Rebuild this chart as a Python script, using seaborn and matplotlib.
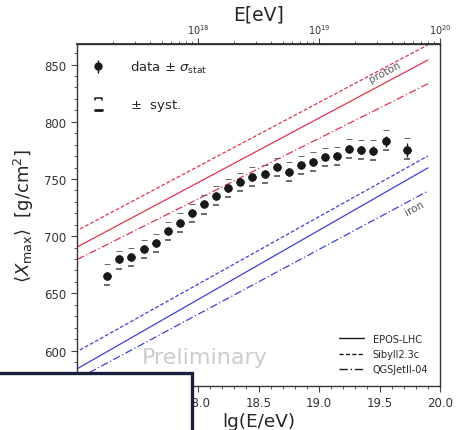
import numpy as np
import pandas as pd
import matplotlib
matplotlib.use("Agg")
import matplotlib.pyplot as plt
import seaborn as sns
from matplotlib.lines import Line2D
from matplotlib.legend_handler import HandlerBase
from matplotlib.patches import Rectangle
from matplotlib.ticker import MultipleLocator, FixedLocator, LogLocator, NullFormatter

# ---------------- data ----------------
lgE = [17.25, 17.35, 17.45, 17.55, 17.65, 17.75, 17.85, 17.95, 18.05, 18.15,
       18.25, 18.35, 18.45, 18.55, 18.65, 18.75, 18.85, 18.95, 19.05, 19.15,
       19.25, 19.35, 19.45, 19.55, 19.73]
xmax = [665.5, 680.2, 681.6, 688.5, 694.3, 704.3, 711.9, 720.0, 727.8, 735.5,
        742.2, 747.2, 752.1, 754.4, 760.2, 756.4, 762.2, 765.2, 769.1, 769.9,
        776.3, 775.4, 774.8, 783.0, 775.4]
stat = [2.0, 1.5, 1.5, 1.5, 1.5, 1.5, 1.5, 1.5, 1.5, 1.5,
        1.5, 1.5, 1.6, 1.6, 1.7, 1.8, 2.0, 2.2, 2.5, 2.8,
        3.0, 3.5, 4.0, 5.0, 6.0]
syst_up = [10, 7, 8, 8, 8, 8, 8, 8, 8, 8, 8, 8, 8, 8, 8, 8, 8, 8, 8, 8, 9, 9, 9, 10, 10]
syst_lo = [8, 9, 8, 8, 8, 8, 8, 8, 8, 8, 8, 8, 8, 8, 8, 8, 8, 8, 8, 8, 8, 8, 8, 8, 8]

model_lgE = [16.9, 19.9]
p_epos = [684.8, 854.0]
p_sibyll = [699.3, 867.3]
p_qgsjet = [674.2, 833.2]
fe_epos = [577.9, 759.7]
fe_sibyll = [593.1, 770.1]
fe_qgsjet = [569.3, 739.4]

models = ["EPOS-LHC", "Sibyll2.3c", "QGSJetII-04"]
top_ticks = [1e18, 1e19, 1e20]
top_labels = ["$10^{18}$", "$10^{19}$", "$10^{20}$"]

rows = []
for prim, vals in [("proton", [p_epos, p_sibyll, p_qgsjet]),
                   ("iron", [fe_epos, fe_sibyll, fe_qgsjet])]:
    for m, v in zip(models, vals):
        for x, y in zip(model_lgE, v):
            rows.append({"lgE": x, "Xmax": y, "primary": prim, "model": m})
df_models = pd.DataFrame(rows)
df_data = pd.DataFrame({"lgE": lgE, "Xmax": xmax})

# ---------------- style ----------------
sns.set_theme(style="ticks")
plt.rcParams["font.family"] = ["DejaVu Sans"]
plt.rcParams["xtick.direction"] = "out"
plt.rcParams["ytick.direction"] = "out"

RED = "#e0344a"
BLUE = "#4040d8"
TICKCOL = "#444444"

fig = plt.figure(figsize=(4.71, 4.31), dpi=100)
fig.patch.set_facecolor("white")
ax = fig.add_axes([77/471, 1-387/431, (440-77)/471, (387-45)/431])

sns.lineplot(data=df_models, x="lgE", y="Xmax", hue="primary", style="model",
             palette={"proton": RED, "iron": BLUE},
             dashes={"EPOS-LHC": "", "Sibyll2.3c": (3, 1.6), "QGSJetII-04": (6, 2, 1, 2)},
             linewidth=0.9, legend=False, ax=ax, sort=True, estimator=None)

# data
eb = ax.errorbar(lgE, xmax, yerr=stat, fmt="o", color="k", ms=5, elinewidth=1.0,
                 capsize=0, zorder=5)
sns.scatterplot(data=df_data, x="lgE", y="Xmax", color="k", s=28, edgecolor="k",
                linewidth=0.5, zorder=6, ax=ax, legend=False)
upper = [v + s for v, s in zip(xmax, syst_up)]
lower = [v - s for v, s in zip(xmax, syst_lo)]
ax.plot(lgE, upper, ls="none", marker="_", ms=5, mew=0.7, color="#666666", zorder=4)
ax.plot(lgE, lower, ls="none", marker="_", ms=5, mew=1.1, color="#444444", zorder=4)

ax.set_xlim(17.0, 20.0)
ax.set_ylim(569, 868)
ax.xaxis.set_major_locator(MultipleLocator(0.5))
ax.xaxis.set_minor_locator(MultipleLocator(0.1))
ax.yaxis.set_major_locator(MultipleLocator(50))
ax.yaxis.set_minor_locator(MultipleLocator(10))
ax.xaxis.set_major_formatter(matplotlib.ticker.FormatStrFormatter("%.1f"))
ax.tick_params(axis="both", which="major", length=4, width=0.8, color=TICKCOL,
               labelsize=8.5, labelcolor="#333333")
ax.tick_params(axis="both", which="minor", length=2.5, width=0.6, color=TICKCOL)
ax.tick_params(axis="x", top=False)
ax.tick_params(axis="y", right=False)
for sp in ax.spines.values():
    sp.set_color("#333333")
    sp.set_linewidth(1.0)

ax.set_xlabel("lg(E/eV)", fontsize=13.3, labelpad=2)
ax.set_ylabel(r"$\langle X_{\mathrm{max}}\rangle$  [g/cm$^2$]", fontsize=13, labelpad=6)

# top axis
sec = ax.secondary_xaxis("top", functions=(lambda x: 10**x, lambda e: np.log10(np.clip(e, 1e-300, None))))
sec.set_xscale("log")
sec.xaxis.set_major_locator(FixedLocator(top_ticks))
sec.set_xticklabels(top_labels)
sec.xaxis.set_minor_locator(LogLocator(base=10, subs=np.arange(2, 10), numticks=20))
sec.xaxis.set_minor_formatter(NullFormatter())
sec.tick_params(which="major", length=4, width=0.8, color=TICKCOL, labelsize=7, labelcolor="#333333", pad=2)
sec.tick_params(which="minor", length=2.5, width=0.6, color=TICKCOL)
sec.set_xlabel("E[eV]", fontsize=13.5, labelpad=2)

# annotations
ax.text(19.54, 843.6, "proton", rotation=28, fontsize=7.5, color="#555555",
        ha="center", va="center", rotation_mode="anchor")
ax.text(19.79, 724.6, "iron", rotation=28, fontsize=7.5, color="#555555",
        ha="center", va="center", rotation_mode="anchor")
ax.text(0.353, 0.085, "Preliminary", transform=ax.transAxes, fontsize=16,
        color="#cccccc", ha="center", va="center")

# legends
class SystHandler(HandlerBase):
    def create_artists(self, legend, orig_handle, xdescent, ydescent, width, height, fontsize, trans):
        cx = width / 2 - xdescent
        cy = height / 2 - ydescent
        w = 2.6
        top = Line2D([cx - w, cx - w, cx + w, cx + w], [cy + 2.5, cy + 4.2, cy + 4.2, cy + 2.5],
                     color="k", lw=1.1, transform=trans)
        bot = Line2D([cx - w, cx + w], [cy - 4.2, cy - 4.2], color="k", lw=2.0, transform=trans)
        return [top, bot]

syst_handle = Line2D([], [])
leg1 = ax.legend([eb, syst_handle], [r"data $\pm$ $\sigma_{\mathrm{stat}}$", r"$\pm$  syst."],
                 handler_map={Line2D: SystHandler()}, loc="upper left", frameon=False,
                 fontsize=9.5, handlelength=1.2, labelspacing=1.7, handletextpad=1.8,
                 borderaxespad=0.6, bbox_to_anchor=(0.0, 0.995))
ax.add_artist(leg1)

model_handles = [Line2D([], [], color="k", lw=1.0, ls="-"),
                 Line2D([], [], color="k", lw=1.0, dashes=(3, 1.6)),
                 Line2D([], [], color="k", lw=1.0, dashes=(6, 2, 1, 2))]
ax.legend(model_handles, models, loc="lower right", frameon=False, fontsize=7,
          handlelength=2.6, labelspacing=0.55, handletextpad=0.9, borderaxespad=0.8)

# overlay box (slide element)
box = Rectangle((-0.02, -0.05), 192/471 + 0.02, (431-374)/431 + 0.05, transform=fig.transFigure,
                facecolor="white", edgecolor="#17203a", linewidth=2.4, zorder=20)
fig.add_artist(box)

fig.savefig("out.png", dpi=100)
